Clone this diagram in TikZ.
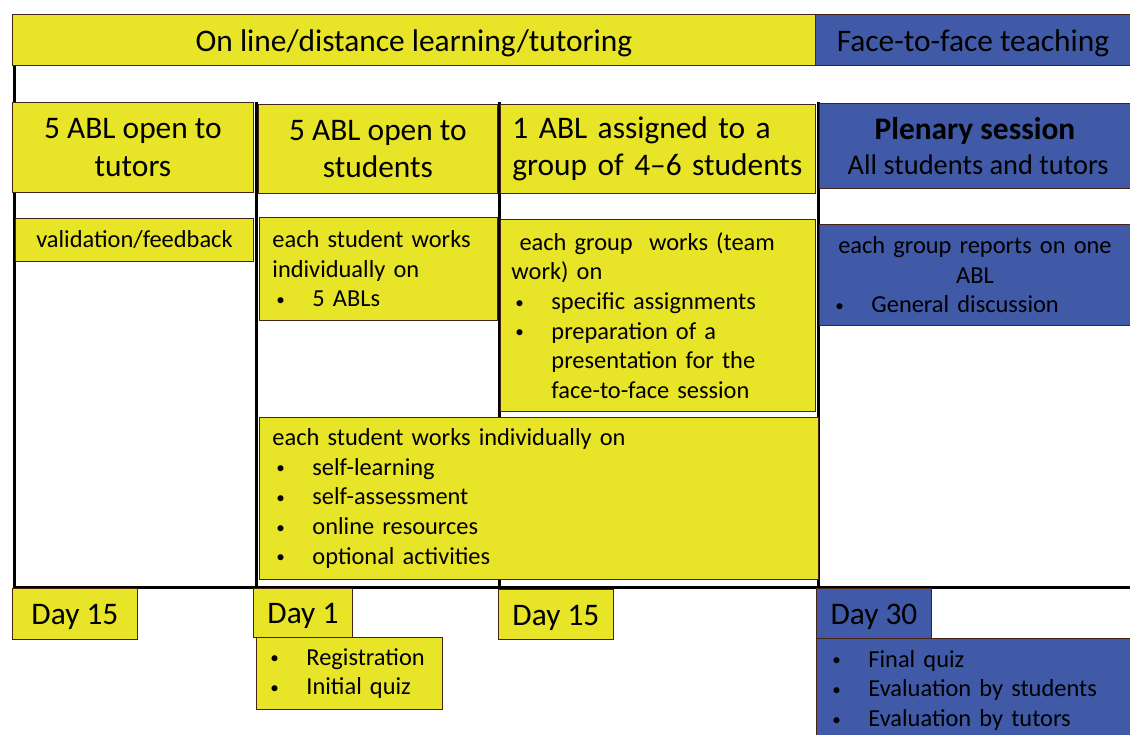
\documentclass[tikz,border=0pt]{standalone}
\usepackage{fontspec}
\setmainfont{Carlito}
\usepackage{graphicx}
\usepackage{tikz}
\definecolor{ylw}{RGB}{232,228,40}
\definecolor{blu}{RGB}{64,90,168}
\definecolor{edgecol}{RGB}{70,35,20}
\newcommand{\itm}[1]{\hspace*{4pt}\makebox[36pt][l]{\raisebox{0.12ex}{\scalebox{0.7}{\textbullet}}}#1}
\newcommand{\low}[1]{\raisebox{-3pt}[\height][\depth]{#1}}
\tikzset{
  ybox/.style={draw=edgecol, line width=0.9pt, fill=ylw, anchor=north west,
               inner xsep=12pt, inner ysep=0pt, text=black},
  bbox/.style={ybox, fill=blu},
  bigtxt/.style={font=\fontsize{31.4}{37.5}\selectfont},
  bodytxt/.style={font=\fontsize{24.4}{29.6}\selectfont},
  frameline/.style={line width=3pt, black},
}

\begin{document}
\begin{tikzpicture}[x=1pt, y=-1pt]
			%%%%% START %%%%%
			\useasboundingbox (0,0) rectangle (1130,735);
			
			% table frame
			\draw[frameline] (14,65) -- (14,587) -- (1130,587);
			\foreach \x in {256,499,818}
				\draw[frameline] (\x,102) -- (\x,587);
			
			% top bar
			\node[ybox, bigtxt, minimum width=803pt, minimum height=51pt] (online) at (12,14) {\low{On line/distance learning/tutoring}};
			\node[bbox, bigtxt, minimum width=315pt, minimum height=51pt] (ftf) at (815,14) {\low{Face-to-face teaching}};
			
			% headers
			\node[ybox, bigtxt, minimum width=241pt, minimum height=90pt, align=center] (tutors) at (12,102) {5 ABL open to\\tutors};
			\node[ybox, bigtxt, minimum width=239pt, minimum height=89pt, align=center] (students) at (258,104) {5 ABL open to\\students};
			\node[ybox, bigtxt, minimum width=315pt, minimum height=89pt, text width=291pt, align=left] (assigned) at (500,104) {1 ABL assigned to a\\group of 4–6 students};
			\node[bbox, minimum width=311pt, minimum height=85pt, align=center] (plenary) at (819,103)
				{\fontsize{31.4}{36}\selectfont\textbf{Plenary session}\\[9pt]\fontsize{28.4}{36}\selectfont\ All students and tutors};
			
			% activities
			\node[ybox, bodytxt, minimum width=238pt, minimum height=43pt] (valid) at (15,218) {validation/feedback};
			\node[ybox, bodytxt, minimum width=238pt, minimum height=103pt, inner xsep=13pt, text width=212pt, align=left] (works) at (259,217)
				{each student works\\individually on\\\itm{5 ABLs}};
			\node[ybox, bodytxt, minimum width=315pt, minimum height=192pt, inner xsep=11pt, text width=293pt, align=left] (team) at (500,219)
				{\ each group\ \ works (team\\work) on\\\itm{specific assignments}\\\itm{preparation of a}\\\hspace*{40pt}presentation for the\\\hspace*{40pt}face-to-face session};
			\node[bbox, bodytxt, minimum width=311pt, minimum height=101pt, text width=287pt, align=center] (reports) at (819,224)
				{each group reports on one\\ABL\\\makebox[287pt][l]{\itm{General discussion}}};
			\node[ybox, bodytxt, minimum width=559pt, minimum height=162pt, inner xsep=13pt, text width=533pt, align=left] (indiv) at (259,417)
				{each student works individually on\\\itm{self-learning}\\\itm{self-assessment}\\\itm{online resources}\\\itm{optional activities}};
			
			% days
			\node[ybox, bigtxt, minimum width=125pt, minimum height=51pt] (dayA) at (12,588) {\low{Day 15}};
			\node[ybox, bigtxt, minimum width=99pt, minimum height=49pt] (dayB) at (253,588) {\low{Day 1}};
			\node[ybox, bodytxt, minimum width=186pt, minimum height=72pt, inner xsep=10pt, text width=166pt, align=left] (reg) at (256,637)
				{\itm{Registration}\\\itm{Initial quiz}};
			\node[ybox, bigtxt, minimum width=115pt, minimum height=50pt] (dayC) at (498,589) {\low{Day 15}};
			\node[bbox, bigtxt, minimum width=115pt, minimum height=50pt] (dayD) at (816,588) {\low{Day 30}};
			\node[bbox, bodytxt, minimum width=314pt, minimum height=104pt, text width=290pt, align=left] (final) at (816,638)
				{\itm{Final quiz}\\\itm{Evaluation by students}\\\itm{Evaluation by tutors}};
			%%%%% END %%%%%
\end{tikzpicture}
\end{document}
